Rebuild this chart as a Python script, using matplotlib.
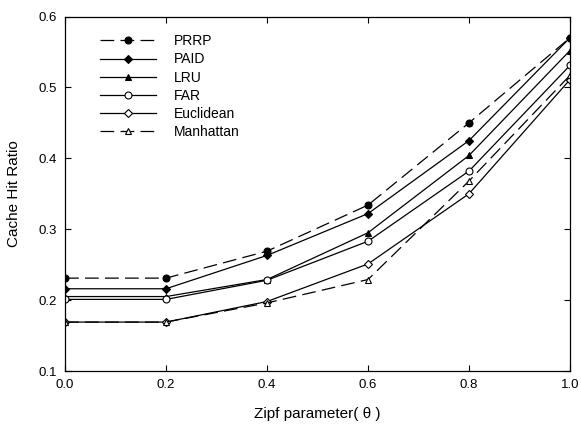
import numpy as np
import matplotlib
matplotlib.use("Agg")
import matplotlib.pyplot as plt

plt.rcParams['font.family'] = ['Liberation Sans', 'DejaVu Sans']

# Zipf parameter values and hit ratios
theta = [0.0, 0.2, 0.4, 0.6, 0.8, 1.0]
prrp = [0.231, 0.231, 0.269, 0.334, 0.450, 0.570]
paid = [0.216, 0.216, 0.263, 0.322, 0.425, 0.570]
lru = [0.205, 0.205, 0.229, 0.295, 0.404, 0.552]
far = [0.201, 0.201, 0.228, 0.283, 0.382, 0.531]
euclidean = [0.169, 0.169, 0.198, 0.251, 0.350, 0.511]
manhattan = [0.169, 0.169, 0.196, 0.229, 0.368, 0.517]

series_names = ["PRRP", "PAID", "LRU", "FAR", "Euclidean", "Manhattan"]
x_ticks = [0.0, 0.2, 0.4, 0.6, 0.8, 1.0]
y_ticks = [0.1, 0.2, 0.3, 0.4, 0.5, 0.6]

fig = plt.figure(figsize=(5.81, 4.26), dpi=100)
ax = fig.add_axes([65 / 581, 1 - 371 / 426, (570 - 65) / 581, (371 - 16.5) / 426])

dash = (0, (11, 5))
styles = [
    dict(ls=dash, marker="o", mfc="black"),
    dict(ls="-", marker="D", mfc="black", ms=4.2),
    dict(ls="-", marker="^", mfc="black"),
    dict(ls="-", marker="o", mfc="white"),
    dict(ls="-", marker="D", mfc="white", ms=4.2),
    dict(ls=dash, marker="^", mfc="white"),
]
data = [prrp, paid, lru, far, euclidean, manhattan]
for vals, name, st in zip(data, series_names, styles):
    kw = dict(color="black", lw=0.9, mec="black", mew=0.8, ms=5)
    kw.update(st)
    ax.plot(theta, vals, label=name, **kw)

ax.set_xlim(0.0, 1.0)
ax.set_ylim(0.1, 0.6)
ax.set_xticks(x_ticks)
ax.set_yticks(y_ticks)
ax.set_xticklabels([f"{t:.1f}" for t in x_ticks])
ax.set_yticklabels([f"{t:.1f}" for t in y_ticks])
ax.tick_params(direction="in", top=True, right=True, length=4, width=0.8, labelsize=9.5, pad=6)
for s in ax.spines.values():
    s.set_linewidth(0.9)

ax.set_xlabel("Zipf parameter( θ )", fontsize=11, labelpad=11)
ax.set_ylabel("Cache Hit Ratio", fontsize=11, labelpad=12)

ax.legend(loc="upper left", bbox_to_anchor=(0.045, 0.985), frameon=False, fontsize=10,
          handlelength=4.0, labelspacing=0.3, handletextpad=1.3)

fig.savefig("out.png", dpi=100)
